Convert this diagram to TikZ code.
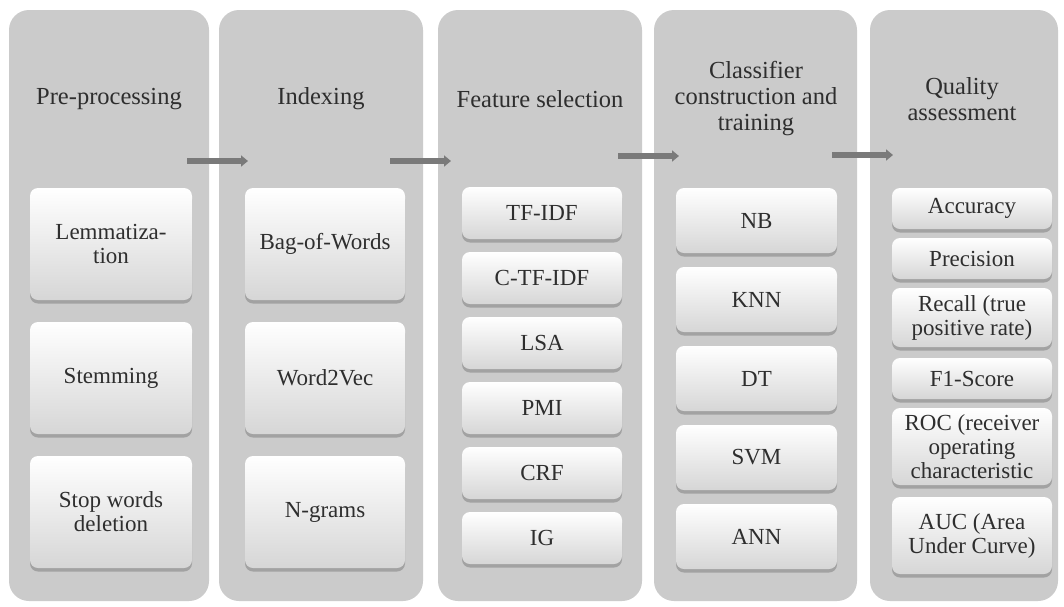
\documentclass[tikz,border=0pt]{standalone}
\usepackage{fontspec}
\setmainfont{Liberation Serif}
\usetikzlibrary{arrows.meta,shadows}
\definecolor{colgray}{HTML}{CBCBCB}
\definecolor{txtgray}{HTML}{2E2E2E}
\definecolor{arrgray}{HTML}{7A7A7A}
\definecolor{boxbot}{HTML}{D6D6D6}
\tikzset{
  colbox/.style={fill=colgray, draw=none, rounded corners=20pt, minimum height=591pt, inner sep=0pt},
  head/.style={align=center, text=txtgray, font=\fontsize{24.5}{26}\selectfont, inner sep=0pt},
  ibox/.style={rounded corners=8pt, top color=white, bottom color=boxbot, draw=none,
     align=center, text=txtgray, font=\fontsize{23}{24}\selectfont, inner sep=0pt,
     drop shadow={shadow xshift=0pt, shadow yshift=-3.5pt, fill=black!60, opacity=0.4}},
  flow/.style={draw=arrgray, line width=6.5pt, -{Triangle[length=7pt,width=11pt]}}
}
\begin{document}
\begin{tikzpicture}[x=1pt,y=-1pt]
\useasboundingbox[fill=white] (0,0) rectangle (1064,606);
% columns
\node[colbox, minimum width=200pt] (c1) at (109,305.5) {};
\node[colbox, minimum width=204pt] (c2) at (321,305.5) {};
\node[colbox, minimum width=204pt] (c3) at (540,305.5) {};
\node[colbox, minimum width=203pt] (c4) at (755.5,305.5) {};
\node[colbox, minimum width=188pt] (c5) at (964,305.5) {};
% headings
\node[head] (h1) at (109,99) {Pre-processing};
\node[head] (h2) at (321,99) {Indexing};
\node[head] (h3) at (540,99) {Feature selection};
\node[head] (h4) at (756,99) {Classifier\\construction and\\training};
\node[head] (h5) at (962,99) {Quality\\assessment};
% arrows
\coordinate (a1s) at (187,161); \coordinate (a1e) at (248,161);
\coordinate (a2s) at (390,161); \coordinate (a2e) at (451,161);
\coordinate (a3s) at (618,156); \coordinate (a3e) at (679,156);
\coordinate (a4s) at (832,155); \coordinate (a4e) at (893,155);
\draw[flow] (a1s) -- (a1e);
\draw[flow] (a2s) -- (a2e);
\draw[flow] (a3s) -- (a3e);
\draw[flow] (a4s) -- (a4e);
% column 1
\node[ibox, minimum width=162pt, minimum height=112pt] (p1) at (111,244) {Lemmatiza-\\tion};
\node[ibox, minimum width=162pt, minimum height=112pt] (p2) at (111,378) {Stemming};
\node[ibox, minimum width=162pt, minimum height=112pt] (p3) at (111,512) {Stop words\\deletion};
% column 2
\node[ibox, minimum width=160pt, minimum height=112pt] (i1) at (325,244) {Bag-of-Words};
\node[ibox, minimum width=160pt, minimum height=112pt] (i2) at (325,378) {Word2Vec};
\node[ibox, minimum width=160pt, minimum height=112pt] (i3) at (325,512) {N-grams};
% column 3
\node[ibox, minimum width=160pt, minimum height=52pt] (f1) at (542,213) {TF-IDF};
\node[ibox, minimum width=160pt, minimum height=52pt] (f2) at (542,278) {C-TF-IDF};
\node[ibox, minimum width=160pt, minimum height=52pt] (f3) at (542,343) {LSA};
\node[ibox, minimum width=160pt, minimum height=52pt] (f4) at (542,408) {PMI};
\node[ibox, minimum width=160pt, minimum height=52pt] (f5) at (542,473) {CRF};
\node[ibox, minimum width=160pt, minimum height=52pt] (f6) at (542,538) {IG};
% column 4
\node[ibox, minimum width=161pt, minimum height=65pt] (k1) at (756.5,220.5) {NB};
\node[ibox, minimum width=161pt, minimum height=65pt] (k2) at (756.5,299.5) {KNN};
\node[ibox, minimum width=161pt, minimum height=65pt] (k3) at (756.5,378.5) {DT};
\node[ibox, minimum width=161pt, minimum height=65pt] (k4) at (756.5,457.5) {SVM};
\node[ibox, minimum width=161pt, minimum height=65pt] (k5) at (756.5,536.5) {ANN};
% column 5
\node[ibox, minimum width=160pt, minimum height=41pt] (q1) at (972,208.5) {Accuracy};
\node[ibox, minimum width=160pt, minimum height=41pt] (q2) at (972,258.5) {Precision};
\node[ibox, minimum width=160pt, minimum height=59pt] (q3) at (972,317.5) {Recall (true\\positive rate)};
\node[ibox, minimum width=160pt, minimum height=41pt] (q4) at (972,378.5) {F1-Score};
\node[ibox, minimum width=160pt, minimum height=77pt] (q5) at (972,446.5) {ROC (receiver\\operating\\characteristic};
\node[ibox, minimum width=160pt, minimum height=77pt] (q6) at (972,535.5) {AUC (Area\\Under Curve)};
\end{tikzpicture}
\end{document}
